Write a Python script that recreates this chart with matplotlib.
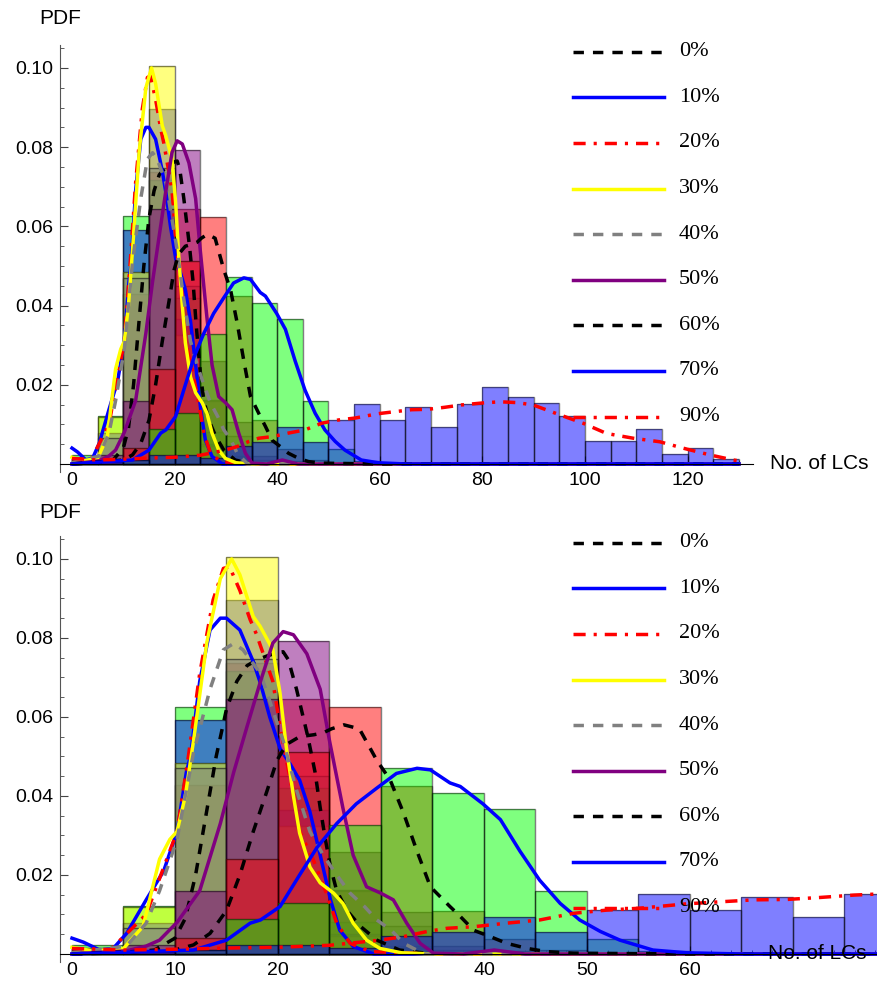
import numpy as np
import matplotlib
matplotlib.use("Agg")
import matplotlib.pyplot as plt
from matplotlib.lines import Line2D
from matplotlib.ticker import MultipleLocator, FormatStrFormatter

# legend labels
labels = ['0%', '10%', '20%', '30%', '40%', '50%', '60%', '70%', '90%']

# histogram bins (width 5, from 0)
bin_left = np.arange(0, 130, 5)

# bar heights (PDF) per series, first bins only, rest are zero
h_0 = [0.0003, 0.001, 0.0428, 0.0737, 0.0645, 0.016, 0.0015]
h_10 = [0.0023, 0.0122, 0.0626, 0.0717, 0.042, 0.008, 0.002]
h_20 = [0.0015, 0.0078, 0.0592, 0.0896, 0.0365, 0.005]
h_30 = [0.0015, 0.0119, 0.0484, 0.1006, 0.0325, 0.0045, 0.0008]
h_40 = [0.001, 0.0066, 0.047, 0.0747, 0.045, 0.0162, 0.007, 0.001]
h_50 = [0.0003, 0.0023, 0.016, 0.0645, 0.0792, 0.0259, 0.0107, 0.002, 0.0008]
h_60 = [0.0, 0.0, 0.004, 0.024, 0.0512, 0.0624, 0.0424, 0.011, 0.0038, 0.001]
h_70 = [0.0, 0.0, 0.001, 0.0088, 0.0129, 0.0327, 0.0472, 0.0407, 0.0367, 0.016, 0.0038, 0.0008]
h_90 = [0.0005, 0.0005, 0.001, 0.0023, 0.0023, 0.0015, 0.0046, 0.0055, 0.0094, 0.0055,
        0.0111, 0.0151, 0.0111, 0.0143, 0.0094, 0.0151, 0.0194, 0.0170, 0.0153, 0.0121,
        0.0058, 0.0058, 0.0089, 0.0025, 0.0041, 0.0012]

# smoothed PDF curves
x_0 = [0, 5, 8, 10, 11, 12, 13, 14, 15, 16, 17, 18, 19, 20, 20.5, 21, 21.8, 22.9, 23.6, 24.1,
       24.6, 25.1, 25.7, 26.7, 28, 29.6, 31.8, 35, 130]
y_0 = [0, 0.0003, 0.001, 0.004, 0.009, 0.02, 0.035, 0.05, 0.062, 0.069, 0.073, 0.0745, 0.0755,
       0.0763, 0.0765, 0.0745, 0.067, 0.055, 0.046, 0.037, 0.029, 0.022, 0.016, 0.011, 0.007,
       0.0035, 0.001, 0, 0]

x_10 = [0, 1.1, 2.7, 4.0, 5.3, 7.2, 8.9, 10.2, 11.1, 11.5, 12.4, 13.4, 14.4, 15.0, 16.3, 17.6,
        18.3, 19.2, 20.2, 21.2, 22.1, 23.1, 24.1, 25.1, 26.0, 27.3, 29.3, 35, 130]
y_10 = [0.004, 0.003, 0.001, 0.0014, 0.0052, 0.0137, 0.021, 0.031, 0.046, 0.050, 0.069, 0.082,
        0.085, 0.085, 0.082, 0.074, 0.0685, 0.060, 0.052, 0.048, 0.044, 0.036, 0.025, 0.0137,
        0.006, 0.0019, 0, 0, 0]

x_20 = [0, 3.7, 7.2, 10.2, 11.3, 12.4, 13.7, 14.7, 15.3, 16.3, 17.3, 17.9, 19.5, 20.2, 21.2,
        22.1, 23.4, 24.7, 25.7, 27.0, 29, 35, 130]
y_20 = [0.0014, 0.001, 0.010, 0.031, 0.050, 0.071, 0.0896, 0.0976, 0.098, 0.092, 0.0846, 0.081,
        0.069, 0.0575, 0.044, 0.031, 0.024, 0.0154, 0.0078, 0.0027, 0.0006, 0, 0]

x_30 = [0, 2, 5, 6.9, 8.5, 9.5, 10.2, 11.0, 11.8, 13.1, 14.4, 15.5, 16.3, 17.6, 18.25, 19.5,
        20.2, 20.8, 21.5, 22.1, 23.1, 24.1, 25.4, 26.3, 27.3, 28.6, 29.9, 32, 35, 130]
y_30 = [0.0017, 0.0008, 0.0014, 0.007, 0.024, 0.029, 0.031, 0.040, 0.054, 0.079, 0.095, 0.100,
        0.096, 0.0854, 0.083, 0.077, 0.066, 0.0525, 0.040, 0.0306, 0.022, 0.018, 0.0154, 0.0128,
        0.0078, 0.0035, 0.0014, 0.0003, 0, 0]

x_40 = [0, 5.3, 7.2, 8.5, 10.2, 11.8, 13.4, 14.7, 15.7, 16.6, 18.3, 19.2, 20.5, 21.8, 23.1,
        24.4, 25.7, 27.0, 28.4, 29.6, 31.0, 32.2, 34.2, 130]
y_40 = [0.0003, 0.002, 0.0078, 0.016, 0.029, 0.051, 0.067, 0.077, 0.0786, 0.077, 0.071, 0.064,
        0.054, 0.0415, 0.031, 0.025, 0.020, 0.0154, 0.012, 0.0086, 0.006, 0.0027, 0, 0]

x_50 = [0, 5.3, 7.2, 8.5, 10.2, 12.4, 14.4, 15.7, 17.0, 18.3, 19.5, 20.5, 21.5, 22.8, 24.1,
        25.0, 26.3, 27.3, 28.6, 29.9, 31.2, 32.5, 33.8, 35.1, 38, 41, 44, 130]
y_50 = [0, 0.0008, 0.002, 0.0035, 0.008, 0.016, 0.033, 0.046, 0.0576, 0.069, 0.0787, 0.0816,
        0.0808, 0.076, 0.067, 0.054, 0.037, 0.025, 0.017, 0.0155, 0.0137, 0.0078, 0.0027,
        0.0002, 0, 0.001, 0, 0]

x_60 = [0, 10, 11.8, 13.4, 15.0, 16.3, 17.6, 18.9, 19.9, 20.8, 22.1, 23.5, 24.4, 25.2, 26.4,
        27.9, 29.6, 30.9, 32.2, 33.5, 34.8, 36.7, 37.7, 39.0, 40.6, 42.2, 44.2, 46.1, 48.7, 60, 130]
y_60 = [0, 0.001, 0.0023, 0.0052, 0.011, 0.020, 0.031, 0.041, 0.049, 0.053, 0.055, 0.0555,
        0.056, 0.057, 0.058, 0.057, 0.049, 0.044, 0.0356, 0.026, 0.017, 0.012, 0.0095, 0.006,
        0.0044, 0.0027, 0.0014, 0.0006, 0.0002, 0, 0]

x_70 = [0, 11.8, 15.0, 17.3, 18.3, 20.2, 22.1, 23.8, 25.7, 27.6, 29.6, 31.5, 33.5, 34.8, 36.7,
        37.7, 39.9, 41.6, 43.5, 45.4, 47.4, 49.3, 51.3, 53.2, 56.4, 59.7, 65, 130]
y_70 = [0, 0.001, 0.0035, 0.0078, 0.0086, 0.012, 0.020, 0.027, 0.033, 0.038, 0.042, 0.0457,
        0.047, 0.0466, 0.0433, 0.0424, 0.038, 0.034, 0.026, 0.0187, 0.0128, 0.0086, 0.0057,
        0.0035, 0.001, 0.0003, 0, 0]

x_90 = [0, 5, 10, 15, 20, 25, 29.9, 32.2, 34.5, 36.4, 39.0, 42.2, 45.4, 48.7, 51.9, 55.2, 59.7,
        62.9, 66.2, 69.4, 72.6, 75.9, 80, 83.4, 86.7, 89.9, 95.1, 99.6, 104.2, 109.4, 114.6,
        119.1, 124.3, 128.9, 130]
y_90 = [0.0014, 0.001, 0.0012, 0.0015, 0.0017, 0.0022, 0.0035, 0.0044, 0.0057, 0.0065, 0.0069,
        0.0078, 0.0086, 0.0103, 0.0111, 0.0116, 0.0127, 0.0132, 0.0137, 0.0138, 0.0143, 0.0149,
        0.0154, 0.0157, 0.0155, 0.0149, 0.0124, 0.0103, 0.0077, 0.0065, 0.0056, 0.004, 0.0023,
        0.001, 0.0008]

hists = [h_0, h_10, h_20, h_30, h_40, h_50, h_60, h_70, h_90]
curves = [(x_0, y_0), (x_10, y_10), (x_20, y_20), (x_30, y_30), (x_40, y_40),
          (x_50, y_50), (x_60, y_60), (x_70, y_70), (x_90, y_90)]

fill_colors = ['red', 'lime', 'blue', 'yellow', 'gray', 'purple', 'red', 'lime', 'blue']
line_colors = ['black', 'blue', 'red', 'yellow', 'gray', 'purple', 'black', 'blue', 'red']
DASH = (3.0, 2.6)
DASHDOT = (3.5, 2.3, 0.9, 2.3)
line_dash = [DASH, None, DASHDOT, None, DASH, None, DASH, None, DASHDOT]
LW = 2.5

W, H = 877, 986
fig = plt.figure(figsize=(W / 100, H / 100), dpi=100)

sans = ['Liberation Sans', 'DejaVu Sans']
serif = ['Liberation Serif', 'DejaVu Serif']


def draw_panel(ax, xlim, major, minor, xticks_max, axis_label_x, top_px):
    for h, fc in zip(hists, fill_colors):
        vals = np.zeros(len(bin_left))
        vals[:len(h)] = h
        ax.bar(bin_left, vals, width=5, align='edge', color=fc, alpha=0.5,
               edgecolor='none', zorder=2)
        ax.bar(bin_left[vals > 0], vals[vals > 0], width=5, align='edge', fill=False,
               edgecolor=(0, 0, 0, 0.5), linewidth=1.0, zorder=2)
    for (xs, ys), c, d in zip(curves, line_colors, line_dash):
        ln, = ax.plot(xs, ys, color=c, lw=LW, zorder=3, solid_joinstyle='round')
        if d is not None:
            ln.set_dashes(d)

    ax.set_xlim(*xlim)
    ax.set_ylim(-0.00203, 0.1058)
    ax.spines['top'].set_visible(False)
    ax.spines['right'].set_visible(False)
    ax.spines['bottom'].set_position(('data', 0))
    ax.spines['bottom'].set_zorder(4)
    ax.spines['left'].set_color('#555555')
    ax.set_xticks(np.arange(0, xticks_max + 1, major))
    ax.xaxis.set_minor_locator(MultipleLocator(minor))
    ax.set_yticks([0.02, 0.04, 0.06, 0.08, 0.10])
    ax.yaxis.set_minor_locator(MultipleLocator(0.005))
    ax.yaxis.set_major_formatter(FormatStrFormatter('%.2f'))
    ax.tick_params(which='both', direction='in', labelsize=14, colors='#444444',
                   labelcolor='black')
    ax.tick_params(which='major', length=6)
    ax.tick_params(which='minor', length=3)
    ax.tick_params(axis='x', pad=6)
    ax.tick_params(axis='y', pad=5)
    for t in ax.get_xticklabels() + ax.get_yticklabels():
        t.set_family(sans)
    ax.annotate('No. of LCs', xy=(axis_label_x, 0), xycoords=('axes fraction', 'data'),
                ha='left', va='center', fontsize=15, family=sans, zorder=6)

    # legend, drawn by hand in figure pixels
    for i, (lab, c, d) in enumerate(zip(labels, line_colors, line_dash)):
        ypx = top_px + 6.7 + 45.6 * i
        yf = 1 - ypx / H
        ln = Line2D([573 / W, 664 / W], [yf, yf], transform=fig.transFigure,
                    color=c, lw=LW, zorder=7)
        if d is not None:
            ln.set_dashes(d)
        fig.add_artist(ln)
        fig.text(679 / W, yf, lab, ha='left', va='center', fontsize=16,
                 family=serif, zorder=8)


# top panel: full range
ax1 = fig.add_axes([60 / W, 1 - 472 / H, 693 / W, 427 / H])
draw_panel(ax1, (-2.34, 132.75), 20, 5, 120, 1.024, 45)
fig.text(60 / W, 1 - 19 / H, 'PDF', ha='center', va='center', fontsize=15, family=sans)

# bottom panel: zoom on small counts
ax2 = fig.add_axes([60 / W, 1 - 962 / H, 817 / W, 426 / H])
draw_panel(ax2, (-1.165, 78.16), 10, 2, 60, 0.866, 536)
fig.text(60 / W, 1 - 512 / H, 'PDF', ha='center', va='center', fontsize=15, family=sans)

fig.savefig('out.png', dpi=100)
